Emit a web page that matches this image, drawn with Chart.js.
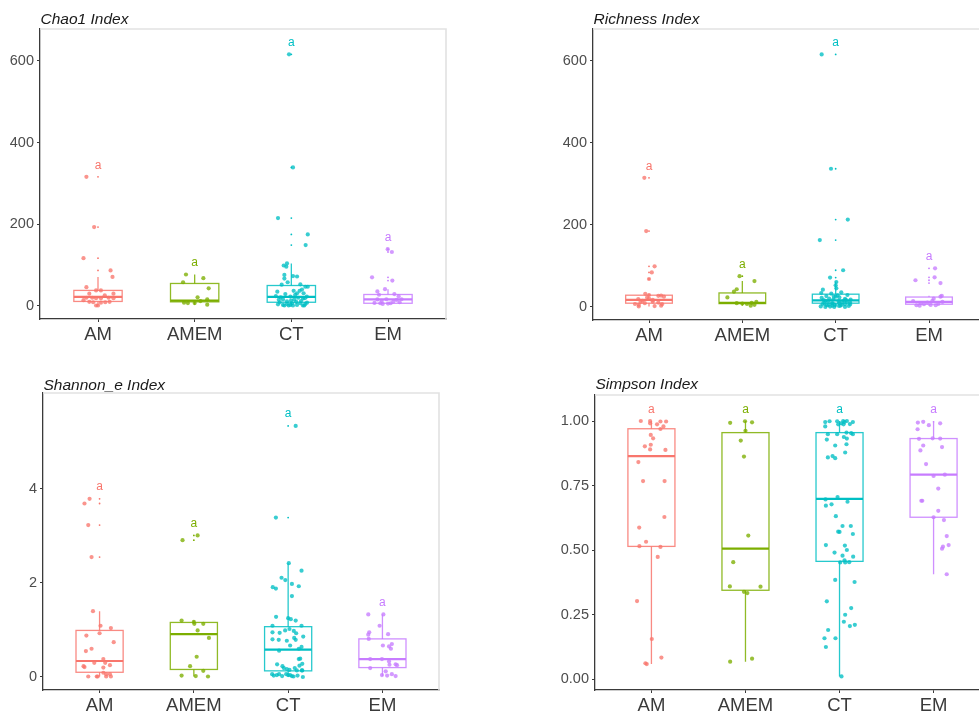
<!DOCTYPE html>
<html>
<head>
<meta charset="utf-8">
<title>Alpha diversity</title>
<script src="https://cdn.jsdelivr.net/npm/chart.js@4"></script>
<style>
  html, body { margin: 0; padding: 0; background: #fff; }
  #wrap { position: relative; width: 979px; height: 713px; overflow: hidden; background: #fff; }
  #wrap canvas { position: absolute; }
</style>
</head>
<body>
<div id="wrap">
  <canvas id="cChao" width="480" height="360" style="left:0;top:0;width:480px;height:360px"></canvas>
  <canvas id="cRich" width="480" height="360" style="left:519px;top:0;width:480px;height:360px"></canvas>
  <canvas id="cShan" width="480" height="353" style="left:0;top:360px;width:480px;height:353px"></canvas>
  <canvas id="cSimp" width="480" height="353" style="left:519px;top:360px;width:480px;height:353px"></canvas>
</div>
<script>
// groups + colours (ggplot default hues)
const groups = ['AM', 'AMEM', 'CT', 'EM'];
const colors = ['#F8766D', '#7CAE00', '#00BFC4', '#C77CFF'];
const letters = ['a', 'a', 'a', 'a'];

// ---- Chao1 ----
const chaoAM = [316,193,117,87,71,46,38,38,30,30,20,20,19,19,20,19,10,9,8,9,10,1,1,14,26];
const chaoAMjit = [-0.12,-0.04,-0.15,0.13,0.15,-0.12,-0.02,0.03,-0.09,0.16,-0.12,-0.06,-0.02,0.03,0.11,0.16,-0.09,-0.05,0.03,0.075,0.12,-0.02,0,-0.15,0.07];
const chaoAMEM = [77,68,58,43,21,16,7,7,3,8,12];
const chaoAMEMjit = [-0.09,0.09,-0.12,0.145,0.03,0.13,-0.07,0,0.13,-0.11,0.06];
const chaoCT = [616,339,215,175,149,104,99,96,76,67,73,72,58,52,53,47,47,40,37,37,31,31,35,24,21,29,23,16,20,19,23,15,16,11,13,12,4,2.4,5,2.4,6.5,2.4,6.5,1,5,8,1,1,1,1,27,9,18,10];
const chaoCTjit = [-0.024,0.017,-0.138,0.17,0.148,-0.045,-0.079,-0.052,-0.072,-0.072,0.017,0.059,-0.038,-0.1,0.093,0.17,0.145,0.11,0.086,0.024,0.059,0.127,-0.145,-0.16,-0.11,-0.062,-0.01,0.03,0.07,0.14,0.16,-0.13,-0.086,-0.045,-0.003,0.1,-0.138,-0.086,-0.045,-0.01,0.007,0.059,0.093,0.12,0.145,0.162,-0.072,-0.028,0.017,0.134,0.04,-0.12,0.12,0.05];
const chaoEM = [139,132,70,62,41,35.5,27.4,29,24,16.3,16.3,16,7.3,6.5,4.9,5.7,6.5,9,10.6,12.2,14.7];
const chaoEMjit = [-0.003,0.04,-0.165,0.045,-0.031,-0.11,-0.093,0.066,0.11,0.14,-0.017,-0.11,-0.14,-0.08,-0.055,0,0.027,0.12,0.055,-0.065,0.09];
const chaoQ1 = [11, 10, 9, 6.5];
const chaoMed = [22, 13, 22, 16];
const chaoQ3 = [38, 55, 50, 28];
const chaoLo = [1, 3, 1, 4.9];
const chaoHi = [71, 77, 104, 41];
const chaoLetterY = [344, 105, 645, 167];
const chaoTicks = [0, 200, 400, 600];

// ---- Richness ----
const richAM = [315,185,99,84,68,32,29,27.6,25,23,19,17,15,13,10.6,9,7,6.5,5,3,2,1,27,20,12];
const richAMjit = [-0.05,-0.03,0.06,0.03,0,-0.04,0,0.13,0.16,-0.02,-0.115,0.04,-0.07,0.04,0.1,-0.045,-0.15,0.14,-0.11,0.13,0.06,-0.11,0.1,0,-0.09];
const richAMEM = [75,63,43,37,23,12,10,9,8,7,5,3];
const richAMEMjit = [-0.03,0.13,-0.06,-0.09,-0.16,0.15,0.1,-0.06,0,0.05,0.13,0.09];
const richCT = [616,337,213,163,89.4,71.5,60.7,52.6,45.3,42,33.9,32.2,35.5,29,26.4,24.8,23.1,19.9,22,16.4,13.2,18,14,15.6,18,9,4,9,4.9,9,6.5,2.4,0.8,0,0,10.6,2.4,0,7,12,20,28,11,5,3,1,6,15,8,3,17,25,5];
const richCTjit = [-0.15,-0.05,0.13,-0.17,0.08,-0.06,0.007,0,0.007,-0.137,-0.155,-0.047,0.06,0.126,-0.1,-0.02,0.04,0.1,-0.15,-0.13,-0.081,-0.025,0.034,0.09,0.16,-0.12,-0.095,-0.04,-0.006,0.037,0.1,0.14,-0.06,-0.015,0.1,0.155,0.036,-0.11,-0.14,0.12,-0.07,0.02,0.07,0.065,-0.035,-0.16,0.155,-0.11,-0.03,0.05,0.11,0,-0.075];
const richEM = [94,65,72,58,27,25,14,4,6.5,4.9,7.3,14.6,12.2,9,10.6,4,3,20];
const richEMjit = [0.065,-0.145,0.06,0.123,0.137,0.123,-0.17,-0.134,-0.054,0.018,0.1,0.036,0.144,-0.09,-0.018,0.072,-0.1,0.05];
const richQ1 = [9, 8, 9, 6.5];
const richMed = [17, 10, 16, 12];
const richQ3 = [28.5, 34, 31, 24];
const richLo = [1, 3, 0, 3];
const richHi = [32, 63, 62, 27];
const richLetterY = [343, 102, 644, 123];
const richTicks = [0, 200, 400, 600];

// ---- Shannon_e ----
const shanAM = [3.79,3.69,3.23,2.55,1.40,1.09,1.04,0.88,0.93,0.74,0.60,0.55,0.38,0.30,0.30,0.23,0.21,0.25,0.20,0.09,0.06,0.06,0.01,0.01,0.01,0.01,0.01];
const shanAMjit = [-0.106,-0.16,-0.12,-0.085,-0.07,0.01,0.12,-0.14,0,0.15,-0.085,-0.145,0.04,0.06,-0.056,-0.17,-0.16,0.11,0.04,0.04,0.07,0.11,-0.12,-0.03,-0.02,0.07,0.12];
const shanAMEM = [3.01,2.91,1.20,1.17,1.13,1.13,0.99,0.83,0.43,0.23,0.13,0.03,0.02,0.01];
const shanAMEMjit = [0.04,-0.12,-0.13,0,0.005,0.1,0.04,0.16,0.03,-0.04,0.1,-0.13,0.02,0.15];
const shanCT = [5.34,3.39,2.42,2.26,2.11,2.06,1.98,1.93,1.91,1.88,1.72,1.28,1.25,1.23,1.20,1.09,1.09,
  0.95,0.94,0.99,1.02,0.98,0.93,0.86,0.80,0.79,0.77,0.83,0.79,0.67,0.64,0.60,0.56,0.38,0.39,
  0.27,0.23,0.19,0.17,0.15,0.19,0.24,0.28,0.14,
  0.06,0.03,0.04,0.06,0.02,0.06,0.04,0.04,0.02,0.01,0.14,0.03,0.0,0.14];
const shanCTjit = [0.08,-0.13,0.007,0.142,-0.07,-0.03,0.04,0.113,-0.163,-0.13,0.04,-0.128,0,0.028,0.08,-0.166,0.142,
  -0.166,-0.09,-0.032,0.014,0.06,0.085,0.16,-0.166,-0.1,-0.014,0.064,0.08,0.021,0.142,0.113,-0.096,0.113,0.128,
  -0.117,-0.06,-0.046,-0.014,0.014,0.07,0.12,0.15,0.15,
  -0.17,-0.153,-0.12,-0.096,-0.064,-0.021,0,0.021,0.04,0.057,0.092,0.1,0.156,0.145];
const shanEM = [1.33,1.33,0.95,0.90,0.81,1.09,0.91,0.67,0.65,0.70,0.60,0.38,0.38,0.33,0.27,0.25,0.26,0.19,0.12,0.04,0.03,0.06,0.02];
const shanEMjit = [-0.15,0.01,-0.14,-0.15,-0.145,-0.03,0.06,0.005,0.07,0.1,0.09,-0.13,-0.005,0.07,0.14,0.155,0.075,-0.13,0.035,-0.005,0.05,0.1,0.14];
const shanQ1 = [0.10, 0.16, 0.13, 0.20];
const shanMed = [0.34, 0.91, 0.58, 0.38];
const shanQ3 = [0.99, 1.16, 1.07, 0.81];
const shanLo = [0.01, 0.01, 0.0, 0.02];
const shanHi = [1.40, 1.20, 2.42, 1.33];
const shanLetterY = [4.05, 3.26, 5.59, 1.57];
const shanTicks = [0, 2, 4];

// ---- Simpson ----
const simpAM = [1.000,1.000,0.991,0.998,0.998,0.987,0.979,0.969,0.946,0.933,0.902,0.908,0.890,0.888,0.841,0.767,0.767,0.628,0.587,0.532,0.515,0.512,0.473,0.302,0.155,0.083,0.061,0.058];
const simpAMjit = [-0.113,-0.014,-0.014,0.096,0.156,0.06,0.128,0.096,-0.007,0.018,-0.07,-0.007,-0.014,0.149,-0.139,-0.089,0.14,0.138,-0.13,-0.057,-0.128,0.096,0.067,-0.153,0.004,0.106,-0.064,-0.05];
const simpAMEM = [0.993,0.999,0.995,0.962,0.924,0.862,0.556,0.453,0.359,0.358,0.338,0.333,0.067,0.079];
const simpAMEMjit = [-0.163,-0.005,0.07,0,-0.05,-0.016,0.03,-0.13,-0.166,0.16,-0.016,0.02,-0.163,0.07];
const simpCT = [0.996,0.999,0.999,1.0,0.996,0.987,0.987,0.988,0.996,0.979,1.0,0.991,
  0.949,0.949,0.955,0.953,0.949,0.938,0.932,0.928,0.905,0.910,0.878,0.859,0.864,0.856,
  0.705,0.696,0.687,0.677,0.672,0.631,0.593,0.593,0.571,0.570,0.562,
  0.519,0.517,0.500,0.490,0.478,0.474,0.460,0.452,0.452,0.453,
  0.384,0.376,0.301,0.275,0.249,0.222,0.205,0.210,0.190,0.158,0.158,0.124,0.010];
const simpCTjit = [-0.152,-0.106,-0.025,0.039,0.053,-0.014,0.043,0.11,0.142,-0.152,0.078,0.018,
  -0.124,-0.025,0.074,0.124,0.142,0.046,0.078,-0.135,-0.046,0.074,0.06,-0.124,-0.074,-0.046,
  -0.021,-0.149,0.085,-0.085,-0.145,-0.039,0.032,0.12,-0.014,0,0.142,
  -0.145,0.057,0.078,-0.053,0.032,0.145,0.053,0.007,0.06,0.103,
  -0.046,0.16,-0.135,0.124,0.06,0.046,0.11,0.163,-0.121,-0.16,-0.043,-0.145,0.021];
const simpEM = [0.994,0.997,0.984,0.991,0.968,0.931,0.933,0.932,0.905,0.899,0.886,0.833,0.787,0.792,0.738,0.691,0.691,0.652,0.627,0.616,0.554,0.519,0.513,0.505,0.406];
const simpEMjit = [-0.167,-0.11,-0.05,0.07,-0.17,-0.155,-0.01,0.07,-0.11,0.09,-0.14,-0.08,0,0.12,0.05,-0.13,-0.12,0.05,0,0.11,0.14,0.16,0.1,0.09,0.14];
const simpQ1 = [0.514, 0.344, 0.456, 0.627];
const simpMed = [0.864, 0.505, 0.698, 0.792];
const simpQ3 = [0.970, 0.955, 0.955, 0.932];
const simpLo = [0.058, 0.067, 0.010, 0.406];
const simpHi = [1.0, 1.0, 1.0, 0.995];
const simpLetterY = [1.045, 1.045, 1.045, 1.045];
const simpTicks = [0, 0.25, 0.5, 0.75, 1];

Chart.defaults.font.family = '"Liberation Sans", Arial, Helvetica, sans-serif';
Chart.defaults.devicePixelRatio = 1;

const BOX_HALF = 0.25;
const AXIS_COL = '#3a3a3a';

function hexA(hex, a) {
  const n = parseInt(hex.slice(1), 16);
  return `rgba(${n >> 16},${(n >> 8) & 255},${n & 255},${a})`;
}

function makePanel(id, p) {
  const datasets = [];
  // outliers (tiny dots on the centre line, like geom_boxplot)
  groups.forEach((g, i) => {
    datasets.push({
      data: p.vals[i].filter(v => v > p.hi[i] || v < p.lo[i]).map(v => ({ x: i + 1, y: v })),
      backgroundColor: colors[i], borderWidth: 0, pointRadius: 0.9,
    });
  });
  // jittered samples
  groups.forEach((g, i) => {
    datasets.push({
      label: g,
      data: p.vals[i].map((v, j) => ({ x: i + 1 + p.jit[i][j], y: v })),
      backgroundColor: hexA(colors[i], 0.78), borderWidth: 0, pointRadius: 2.1,
    });
  });

  const boxPlugin = {
    id: 'box_' + id,
    beforeDatasetsDraw(chart) {
      const { ctx, chartArea: a, scales: { x, y } } = chart;
      ctx.save();
      ctx.strokeStyle = '#e2e2e2';
      ctx.lineWidth = 1.6;
      ctx.beginPath();
      ctx.moveTo(a.left, a.top); ctx.lineTo(a.right, a.top); ctx.lineTo(a.right, a.bottom);
      ctx.stroke();
      groups.forEach((g, i) => {
        const cx = x.getPixelForValue(i + 1);
        const x0 = x.getPixelForValue(i + 1 - BOX_HALF);
        const x1 = x.getPixelForValue(i + 1 + BOX_HALF);
        const yq1 = y.getPixelForValue(p.q1[i]), yq3 = y.getPixelForValue(p.q3[i]);
        const ylo = y.getPixelForValue(p.lo[i]), yhi = y.getPixelForValue(p.hi[i]);
        const ymed = y.getPixelForValue(p.med[i]);
        ctx.strokeStyle = hexA(colors[i], 0.85);
        ctx.lineWidth = 1.3;
        ctx.beginPath();
        ctx.moveTo(cx, yq3); ctx.lineTo(cx, yhi);
        ctx.moveTo(cx, yq1); ctx.lineTo(cx, ylo);
        ctx.stroke();
        ctx.strokeRect(x0, yq3, x1 - x0, yq1 - yq3);
        ctx.strokeStyle = colors[i];
        ctx.lineWidth = 2.2;
        ctx.beginPath(); ctx.moveTo(x0, ymed); ctx.lineTo(x1, ymed); ctx.stroke();
      });
      ctx.restore();
    },
    afterDatasetsDraw(chart) {
      const { ctx, scales: { x, y } } = chart;
      ctx.save();
      ctx.font = '12px "Liberation Sans", Arial, sans-serif';
      ctx.textAlign = 'center';
      ctx.textBaseline = 'middle';
      groups.forEach((g, i) => {
        ctx.fillStyle = colors[i];
        ctx.fillText(letters[i], x.getPixelForValue(i + 1), y.getPixelForValue(p.letterY[i]));
      });
      ctx.restore();
    },
    afterDraw(chart) {
      const { ctx, chartArea: a } = chart;
      ctx.save();
      ctx.font = 'italic 15.5px "Liberation Sans", Arial, sans-serif';
      ctx.fillStyle = '#1a1a1a';
      ctx.textAlign = 'left';
      ctx.textBaseline = 'alphabetic';
      ctx.fillText(p.title, a.left + 0.5, p.titleY);
      ctx.restore();
    },
  };

  return new Chart(document.getElementById(id), {
    type: 'scatter',
    data: { datasets },
    options: {
      responsive: false,
      animation: false,
      layout: { padding: p.pad },
      plugins: { legend: { display: false }, tooltip: { enabled: false } },
      scales: {
        x: {
          type: 'linear', min: 0.4, max: 4.6,
          afterBuildTicks: s => { s.ticks = groups.map((g, i) => ({ value: i + 1 })); },
          afterFit: s => { s.height = p.xH; },
          ticks: { callback: (v, i) => groups[i], autoSkip: false, maxRotation: 0,
                   font: { size: 18.5 }, color: '#3a3a3a', padding: 2 },
          grid: { drawOnChartArea: false, tickLength: 3, tickColor: AXIS_COL },
          border: { color: AXIS_COL, width: 1.3 },
        },
        y: {
          min: p.yMin, max: p.yMax,
          afterBuildTicks: s => { s.ticks = p.ticks.map(v => ({ value: v })); },
          afterFit: s => { s.width = 40; },
          ticks: { callback: p.fmt, autoSkip: false, font: { size: 14.5 }, color: '#4d4d4d', padding: 3 },
          grid: { drawOnChartArea: false, tickLength: 3, tickColor: AXIS_COL },
          border: { color: AXIS_COL, width: 1.3 },
        },
      },
    },
    plugins: [boxPlugin],
  });
}

makePanel('cChao', {
  title: 'Chao1 Index', titleY: 24,
  vals: [chaoAM, chaoAMEM, chaoCT, chaoEM], jit: [chaoAMjit, chaoAMEMjit, chaoCTjit, chaoEMjit],
  q1: chaoQ1, med: chaoMed, q3: chaoQ3, lo: chaoLo, hi: chaoHi, letterY: chaoLetterY,
  ticks: chaoTicks, fmt: v => String(v), yMin: -32, yMax: 678,
  pad: { left: 0, right: 34, top: 29, bottom: 0 }, xH: 41,
});

makePanel('cRich', {
  title: 'Richness Index', titleY: 24,
  vals: [richAM, richAMEM, richCT, richEM], jit: [richAMjit, richAMEMjit, richCTjit, richEMjit],
  q1: richQ1, med: richMed, q3: richQ3, lo: richLo, hi: richHi, letterY: richLetterY,
  ticks: richTicks, fmt: v => String(v), yMin: -32, yMax: 678,
  pad: { left: 34, right: 14, top: 29, bottom: 0 }, xH: 40,
});

makePanel('cShan', {
  title: 'Shannon_e Index', titleY: 30,
  vals: [shanAM, shanAMEM, shanCT, shanEM], jit: [shanAMjit, shanAMEMjit, shanCTjit, shanEMjit],
  q1: shanQ1, med: shanMed, q3: shanQ3, lo: shanLo, hi: shanHi, letterY: shanLetterY,
  ticks: shanTicks, fmt: v => String(v), yMin: -0.277, yMax: 6.04,
  pad: { left: 3, right: 41, top: 33, bottom: 0 }, xH: 23,
});

makePanel('cSimp', {
  title: 'Simpson Index', titleY: 28.5,
  vals: [simpAM, simpAMEM, simpCT, simpEM], jit: [simpAMjit, simpAMEMjit, simpCTjit, simpEMjit],
  q1: simpQ1, med: simpMed, q3: simpQ3, lo: simpLo, hi: simpHi, letterY: simpLetterY,
  ticks: simpTicks, fmt: v => v.toFixed(2), yMin: -0.0426, yMax: 1.1008,
  pad: { left: 36, right: 9, top: 35, bottom: 0 }, xH: 23,
});
</script>
</body>
</html>
